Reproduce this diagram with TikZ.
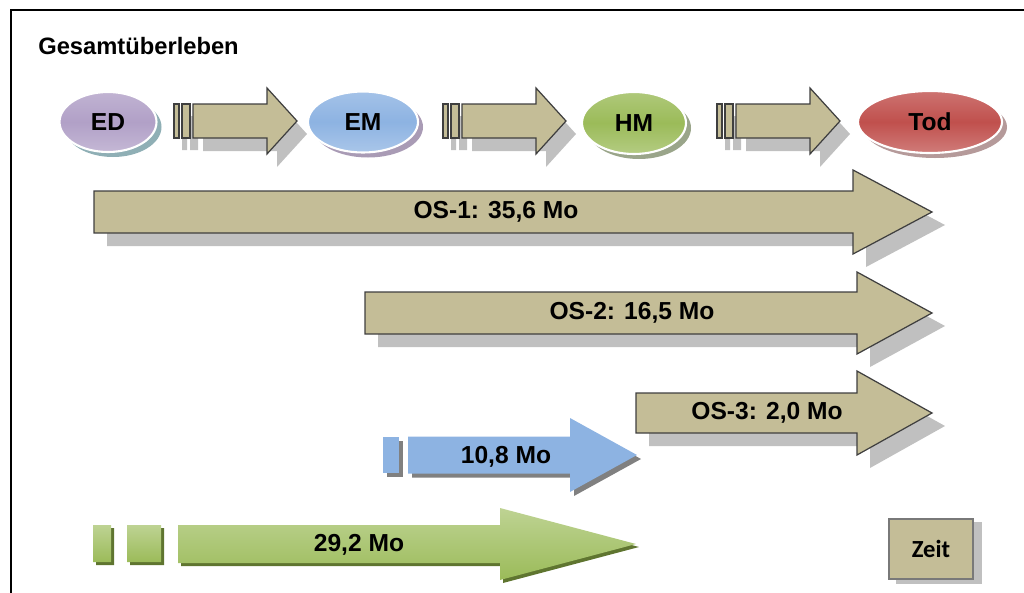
\documentclass[tikz,border=0pt]{standalone}
\usepackage{fontspec}
\setmainfont{Liberation Sans}
\newfontfamily\zeitfont{Carlito}
\usetikzlibrary{shapes.geometric, backgrounds}
\definecolor{ctan}{HTML}{C4BD97}
\definecolor{cedge}{HTML}{3F3F3F}
\definecolor{cdrop}{HTML}{C0C0C0}
\definecolor{cpurple}{HTML}{B1A0C7}
\definecolor{cblue}{HTML}{8DB3E2}
\definecolor{cgreen}{HTML}{9BBB59}
\definecolor{cred}{HTML}{C0504D}
\definecolor{cdkgreen}{HTML}{5F7530}
\definecolor{dpurple}{HTML}{8FAFB5}
\definecolor{dblue}{HTML}{A99BB5}
\definecolor{dgreen}{HTML}{9AA58A}
\definecolor{dred}{HTML}{B59A9A}
\tikzset{
  every picture/.style={font=\bfseries\fontsize{14}{16}\selectfont, x=0.02cm, y=-0.02cm},
  stage/.style={ellipse, draw=white, line width=1.2pt, inner sep=0pt, top color=#1!80!white, bottom color=#1!75!white, middle color=#1},
  tanarr/.style={fill=ctan, draw=cedge, line width=0.7pt},
  drop/.style={fill=cdrop},
  lbl/.style={inner sep=0pt},
}

\begin{document}
\begin{tikzpicture}
  \newcommand{\blk}[7]{% style, start x, head x, tip x, centre y, half body, half head
    \path[#1] (#2,#5-#6) -- (#3,#5-#6) -- (#3,#5-#7) -- (#4,#5) -- (#3,#5+#7) -- (#3,#5+#6) -- (#2,#5+#6) -- cycle;}
  \newcommand{\hop}[1]{% small arrow with two bars, #1 = left of first bar
    \path[drop, shift={(8,12)}] (#1,104) rectangle (#1+5,138) (#1+8,104) rectangle (#1+16,138);
    \blk{drop, shift={(10,13)}}{#1+19}{#1+93}{#1+123}{121}{17}{33}
    \path[tanarr] (#1,104) rectangle (#1+5,138) (#1+8,104) rectangle (#1+16,138);
    \blk{tanarr}{#1+19}{#1+93}{#1+123}{121}{17}{33}}
  \useasboundingbox (0,0) rectangle (1024,592);
  \draw[line width=1.4pt] (11,10) rectangle (1040,610);

  \node[lbl, anchor=west, font=\bfseries\fontsize{13.5}{16}\selectfont] (title) at (38,46) {Gesamtüberleben};

  % stages
  \node[stage=cpurple, minimum width=1.94cm, minimum height=1.2cm] (ed) at (108,122) {ED};
  \node[stage=cblue, minimum width=2.2cm, minimum height=1.22cm] (em) at (363,122) {EM};
  \node[stage=cgreen, minimum width=2.08cm, minimum height=1.24cm] (hm) at (634,123) {HM};
  \node[stage=cred, minimum width=2.88cm, minimum height=1.24cm] (tod) at (930,122) {Tod};
  \begin{scope}[on background layer]
    \fill[dpurple] ([shift={(5,5)}]ed.center) ellipse [x radius=48.5, y radius=30];
    \fill[dblue] ([shift={(5,5)}]em.center) ellipse [x radius=55, y radius=30.5];
    \fill[dgreen] ([shift={(5,5)}]hm.center) ellipse [x radius=52, y radius=31];
    \fill[dred] ([shift={(5,5)}]tod.center) ellipse [x radius=72, y radius=31];
  \end{scope}
  \hop{174}
  \hop{443}
  \hop{717}

  % overall survival
  \blk{drop, shift={(13,13)}}{94}{853}{932}{212}{21}{42}
  \blk{tanarr}{94}{853}{932}{212}{21}{42}
  \blk{drop, shift={(13,13)}}{365}{857}{932}{313}{21}{41}
  \blk{tanarr}{365}{857}{932}{313}{21}{41}
  \blk{drop, shift={(13,13)}}{636}{857}{932}{413}{20}{42}
  \blk{tanarr}{636}{857}{932}{413}{20}{42}
  \node[lbl] (os1) at (496,212) {OS-1: 35,6 Mo};
  \node[lbl] (os2) at (632,313) {OS-2: 16,5 Mo};
  \node[lbl] (os3) at (767,413) {OS-3: 2,0 Mo};

  % intervals
  \path[fill=black!50, shift={(4,4)}] (383,437) rectangle (399,473);
  \blk{fill=black!50, shift={(4,4)}}{408}{570}{637}{455}{18.5}{37}
  \path[fill=cblue] (383,437) rectangle (399,473);
  \blk{fill=cblue}{408}{570}{637}{455}{18.5}{37}
  \node[lbl] (t1) at (506,457) {10,8 Mo};

  \path[fill=cdkgreen, shift={(3,3)}] (93,525) rectangle (111,562) (127,525) rectangle (161,562);
  \blk{fill=cdkgreen, shift={(3,3)}}{178}{500}{636}{544}{19}{36}
  \path[top color=cgreen!65!white, bottom color=cgreen] (93,525) rectangle (111,562) (127,525) rectangle (161,562);
  \blk{top color=cgreen!65!white, bottom color=cgreen}{178}{500}{636}{544}{19}{36}
  \node[lbl] (t2) at (359,545) {29,2 Mo};

  % time box
  \node[draw=cedge!70, line width=0.8pt, fill=ctan, minimum width=1.68cm, minimum height=1.2cm, font=\zeitfont\bfseries\fontsize{14}{16}\selectfont] (zeit) at (931,549) {Zeit};
  \begin{scope}[on background layer]
    \fill[drop] ([shift={(8,4)}]zeit.north west) rectangle ([shift={(8,4)}]zeit.south east);
  \end{scope}
\end{tikzpicture}
\end{document}
